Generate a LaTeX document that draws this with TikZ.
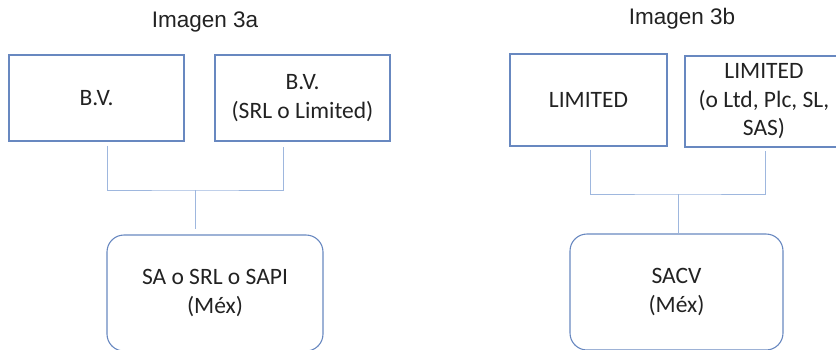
\documentclass[tikz,border=0pt]{standalone}
\usepackage{fontspec}
\setmainfont{Carlito}
\newfontfamily\headfont{Liberation Sans}
\usepackage{tikz}
\usepackage{xcolor}
\definecolor{boxblue}{RGB}{104,136,192}
\definecolor{linkblue}{RGB}{158,183,222}
\definecolor{inkgray}{RGB}{34,34,34}
\tikzset{entity/.style={draw=boxblue,line width=1.1pt,align=center,
   text=inkgray,font=\fontsize{23.5}{28.5}\selectfont,inner sep=0pt},
 rbox/.style={entity,rounded corners=17pt},
 link/.style={draw=linkblue,line width=0.9pt},
 heading/.style={text=inkgray,font=\headfont\fontsize{22.5}{27}\selectfont},
 }

\begin{document}
\begin{tikzpicture}[x=1pt,y=-1pt]
        \useasboundingbox (0,0) rectangle (836,349);
        \clip (0,0) rectangle (836,349);
        % Imagen 3a
        \node[heading] (t1) at (205, 22) {Imagen 3a};
        \node[entity, minimum width=175pt, minimum height=86pt] (a1) at (96.5, 98) {B.V.};
        \node[entity, minimum width=175pt, minimum height=86pt] (a2) at (302.5, 98) {B.V.\\(SRL o Limited)};
        \node[rbox, minimum width=216pt, minimum height=116pt] (c1) at (215, 293) {SA o SRL o SAPI\\(Méx)};
        \coordinate (ja) at (195, 190);
        \draw[link] ([xshift=10.5pt,yshift=-4pt]a1.south) |- (ja) -| ([xshift=-19.5pt,yshift=-5pt]a2.south);
        \draw[link] (ja) -- ([xshift=-20pt,yshift=5pt]c1.north);
        % Imagen 3b
        \node[heading] (t2) at (682, 19) {Imagen 3b};
        \node[entity, minimum width=157pt, minimum height=92pt] (b1) at (588.5, 100) {LIMITED};
        \node[entity, minimum width=158pt, minimum height=91pt] (b2) at (764, 101.5) {LIMITED\\(o Ltd, Plc, SL,\\SAS)};
        \node[rbox, minimum width=213pt, minimum height=116pt] (c2) at (676.5, 292) {SACV\\(Méx)};
        \coordinate (jb) at (678, 194);
        \draw[link] ([xshift=1.5pt,yshift=-3pt]b1.south) |- (jb) -| ([xshift=1pt,yshift=-3pt]b2.south);
        \draw[link] (jb) -- (jb |- c2.north);
    \end{tikzpicture}
\end{document}
